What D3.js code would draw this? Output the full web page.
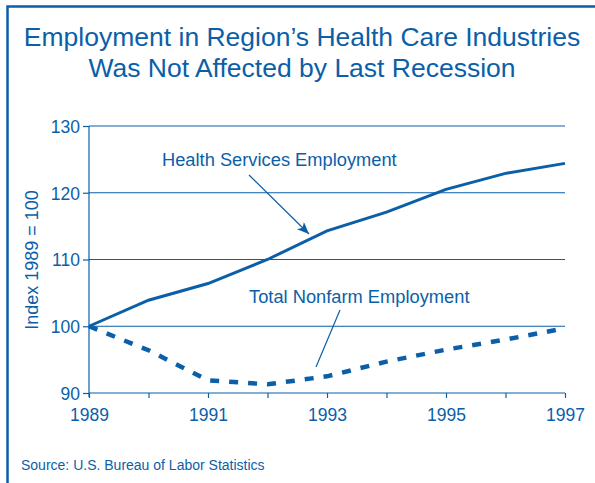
<!DOCTYPE html>
<html><head><meta charset="utf-8">
<script src="https://cdn.jsdelivr.net/npm/d3@7"></script>
<style>body{margin:0;background:#fff}svg{display:block;font-family:"Liberation Sans",Arial,sans-serif}</style>
</head><body>
<script>
const years = [1989,1990,1991,1992,1993,1994,1995,1996,1997];
const healthServices = [100,103.9,106.4,110.0,114.3,117.1,120.5,122.9,124.4];
const totalNonfarm = [100,96.4,91.9,91.3,92.5,94.7,96.5,98.0,99.7];
const yTicks = [90,100,110,120,130];
const xLabels = [1989,1991,1993,1995,1997];
const titleLines = ["Employment in Region\u2019s Health Care Industries","Was Not Affected by Last Recession"];

const W=595,H=483, C="#0b5fa8";
const FF="Liberation Sans, Arial, sans-serif";
const svg=d3.select("body").append("svg").attr("width",W).attr("height",H);
// frame
svg.append("path").attr("d","M7.5,483 V6.5 H595").attr("fill","none").attr("stroke",C).attr("stroke-width",2.5);

svg.selectAll(".title").data(titleLines).join("text")
  .attr("x",302).attr("y",(d,i)=>46+i*31).attr("text-anchor","middle")
  .attr("font-size",26.5).attr("fill",C).text(d=>d);

const x=d3.scaleLinear().domain([1989,1997]).range([89,565]);
const y=d3.scaleLinear().domain([90,130]).range([393,126]);

// gridlines
svg.append("g").selectAll("line").data(yTicks.slice(1)).join("line")
  .attr("x1",x(1989)).attr("x2",x(1997)).attr("y1",d=>y(d)).attr("y2",d=>y(d))
  .attr("stroke",C).attr("stroke-width",1.2);

const ya=svg.append("g").attr("transform",`translate(${x(1989)},0)`)
  .call(d3.axisLeft(y).tickValues(yTicks).tickSize(6).tickFormat(d3.format("d")));
const xa=svg.append("g").attr("transform",`translate(0,${y(90)})`)
  .call(d3.axisBottom(x).tickValues(years).tickSize(5).tickFormat(d=>xLabels.includes(d)?d:""));
[ya,xa].forEach(a=>{a.attr("font-size",17.5).attr("font-family",FF);
  a.selectAll("path,line").attr("stroke",C).attr("stroke-width",1.2);
  a.selectAll("text").attr("fill",C);});
ya.select(".domain").remove();
ya.append("line").attr("y1",y(90)+4).attr("y2",y(130)).attr("stroke",C).attr("stroke-width",1.2);
ya.selectAll("text").attr("x",-9).attr("dy","0.36em");
xa.select(".domain").remove();
xa.append("line").attr("x1",x(1989)).attr("x2",x(1997)).attr("stroke",C).attr("stroke-width",1.2);
xa.selectAll("text").attr("y",0).attr("dy",28);

svg.append("text").attr("transform","translate(38,260) rotate(-90)").attr("text-anchor","middle")
  .attr("font-size",18).attr("fill",C).text("Index 1989 = 100");

const line=d3.line().x((d,i)=>x(years[i])).y(d=>y(d));
svg.append("path").datum(healthServices).attr("d",line).attr("fill","none").attr("stroke",C).attr("stroke-width",3);
svg.append("path").datum(totalNonfarm).attr("d",line).attr("fill","none").attr("stroke",C).attr("stroke-width",4.5)
  .attr("stroke-dasharray","9,10");

// annotations
svg.append("defs").append("marker").attr("id","ah").attr("viewBox","0 0 12 10").attr("refX",12).attr("refY",5)
  .attr("markerWidth",12).attr("markerHeight",10).attr("markerUnits","userSpaceOnUse").attr("orient","auto")
  .append("path").attr("d","M0,0 L12,5 L0,10 L3,5 Z").attr("fill",C);
svg.append("text").attr("x",162).attr("y",166).attr("font-size",18.3).attr("fill",C).text("Health Services Employment");
svg.append("line").attr("x1",249).attr("y1",175).attr("x2",309).attr("y2",234).attr("stroke",C).attr("stroke-width",1.2).attr("marker-end","url(#ah)");
svg.append("text").attr("x",249).attr("y",303).attr("font-size",18.3).attr("fill",C).text("Total Nonfarm Employment");
svg.append("line").attr("x1",340).attr("y1",310).attr("x2",316).attr("y2",367).attr("stroke",C).attr("stroke-width",1.2);

svg.append("text").attr("x",21).attr("y",470).attr("font-size",14).attr("fill",C).text("Source: U.S. Bureau of Labor Statistics");
</script>
</body></html>
